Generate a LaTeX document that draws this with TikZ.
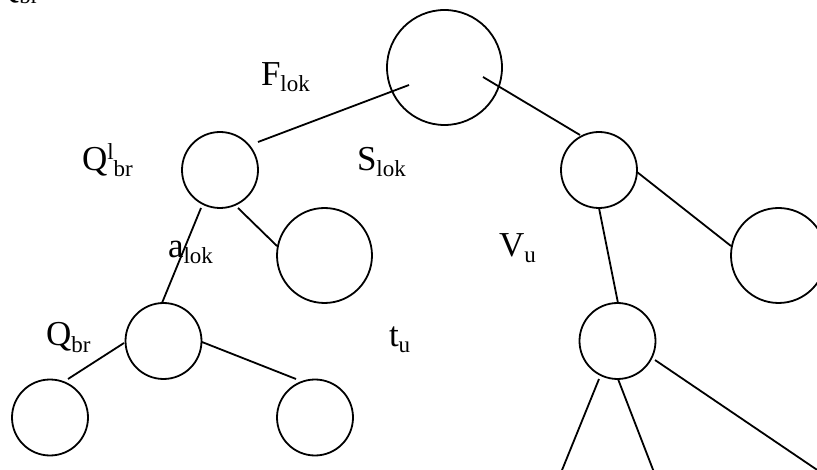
\documentclass[tikz,border=0pt]{standalone}
\usepackage{fontspec}
\setmainfont{Liberation Serif}
\usetikzlibrary{calc}
\newcommand{\mainsz}{\fontsize{35}{35}\selectfont}
\newcommand{\subsz}{\fontsize{23}{23}\selectfont}
\newcommand{\lbl}[2]{{\mainsz #1}{\subsz\raisebox{-6pt}{#2}}}
\begin{document}
\begin{tikzpicture}[x=1pt,y=-1pt,
  vert/.style={circle,draw,line width=1.8pt,inner sep=0pt},
  small/.style={vert,minimum size=76pt},
  big/.style={vert,minimum size=95pt},
  huge/.style={vert,minimum size=115pt},
  edge/.style={line width=1.8pt},
  lab/.style={anchor=base west,inner sep=0pt,outer sep=0pt}]
\useasboundingbox (0,0) rectangle (817,470);
\clip (0,0) rectangle (817,470);
% nodes
\node[huge]  (root) at (444.5,67.5) {};
\node[small] (A) at (220,170) {};
\node[big]   (B) at (324.5,255.5) {};
\node[small] (C) at (163.5,341) {};
\node[small] (D) at (50,417.5) {};
\node[small] (E) at (315,417.5) {};
\node[small] (F) at (599,170) {};
\node[big]   (G) at (778.5,255.5) {};
\node[small] (H) at (617.5,341) {};
\coordinate (o1) at (558,480);
\coordinate (o2) at (657,480);
\coordinate (o3) at (832,480);
% connectors
\draw[edge] ($(root)+(-35.5,17.5)$) -- ($(A)+(38,-28)$);
\draw[edge] ($(root)+(38.5,9.5)$) -- ($(F)+(-19,-35)$);
\draw[edge] ($(A)+(18,38)$) -- ($(B)+(-47.5,-9.5)$);
\draw[edge] ($(A)+(-19,38)$) -- ($(C)+(-1.5,-38)$);
\draw[edge] ($(C)+(-39.5,2)$) -- ($(D)+(18,-38.5)$);
\draw[edge] ($(C)+(38.5,1)$) -- ($(E)+(-19,-38.5)$);
\draw[edge] ($(F)+(38,2)$) -- ($(G)+(-47.5,-9.5)$);
\draw[edge] ($(F)+(0,38)$) -- ($(H)+(0.5,-38)$);
\draw[edge] ($(H)+(-18.5,38)$) -- (o1);
\draw[edge] ($(H)+(0.5,38)$) -- (o2);
\draw[edge] ($(H)+(37.5,19)$) -- (o3);
% labels
\node[lab] (ltop) at (-6,-2) {\lbl{Q}{br}};
\node[lab] (lF) at (261,86) {\lbl{F}{lok}};
\node[lab] (lQl) at (82,171) {{\mainsz Q}{\subsz\raisebox{11pt}{l}\raisebox{-6pt}{br}}};
\node[lab] (lS) at (357,171) {\lbl{S}{lok}};
\node[lab] (la) at (168,258) {\lbl{a}{lok}};
\node[lab] (lV) at (499,257) {\lbl{V}{u}};
\node[lab] (lQ) at (46,346) {\lbl{Q}{br}};
\node[lab] (lt) at (389,347) {\lbl{t}{u}};
\end{tikzpicture}
\end{document}
